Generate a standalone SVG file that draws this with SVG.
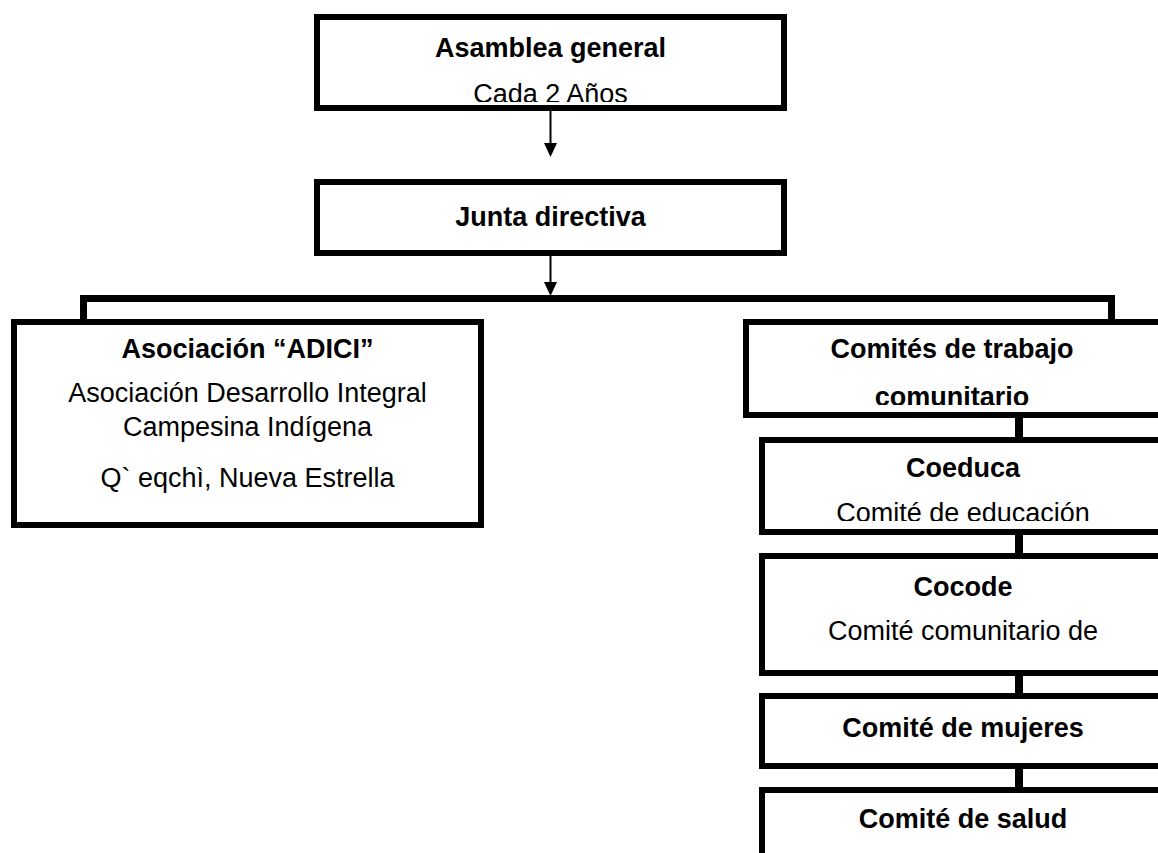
<svg xmlns="http://www.w3.org/2000/svg" width="1158" height="853" viewBox="0 0 1158 853">
<style>
.box{fill:#fff;stroke:#000;stroke-width:6}
.b{font-family:"Liberation Sans",Arial,sans-serif;font-size:27px;font-weight:bold;fill:#000;text-anchor:middle}
.r{font-family:"Liberation Sans",Arial,sans-serif;font-size:27px;fill:#000;text-anchor:middle}
.thin{stroke:#000;stroke-width:2;fill:none}
.thick{stroke:#000;stroke-width:7;fill:none}
.link{stroke:#000;stroke-width:8;fill:none}
</style>
<defs>
<clipPath id="c1"><rect x="317" y="17" width="467" height="85"/></clipPath>
<clipPath id="c2"><rect x="746" y="322" width="420" height="83"/></clipPath>
<clipPath id="c3"><rect x="762" y="440" width="410" height="81"/></clipPath>
</defs>
<rect width="1158" height="853" fill="#fff"/>
<g id="connectors">
<line class="thin" x1="550.5" y1="111" x2="550.5" y2="145"/>
<polygon points="544,143 557,143 550.5,157" fill="#000"/>
<line class="thin" x1="550.5" y1="256" x2="550.5" y2="284"/>
<polygon points="544,282 557,282 550.5,296" fill="#000"/>
<path class="thick" d="M83.5 320 V298.5 H1111.5 V320" stroke-linejoin="miter"/>
<line class="link" x1="1019" y1="418" x2="1019" y2="438"/>
<line class="link" x1="1019" y1="535" x2="1019" y2="554"/>
<line class="link" x1="1019" y1="676" x2="1019" y2="697"/>
<line class="link" x1="1019" y1="769" x2="1019" y2="788"/>
</g>
<g id="asamblea">
<rect class="box" x="317" y="17" width="467" height="91"/>
<text class="b" x="550.5" y="57">Asamblea general</text>
<text class="r" x="550.5" y="103" clip-path="url(#c1)">Cada 2 Años</text>
</g>
<g id="junta">
<rect class="box" x="317" y="182" width="467" height="71"/>
<text class="b" x="550.5" y="226">Junta directiva</text>
</g>
<g id="adici">
<rect class="box" x="14" y="322" width="467" height="203"/>
<text class="b" x="247.5" y="358">Asociación “ADICI”</text>
<text class="r" x="247.5" y="402">Asociación Desarrollo Integral</text>
<text class="r" x="247.5" y="436">Campesina Indígena</text>
<text class="r" x="247.5" y="487">Q` eqchì, Nueva Estrella</text>
</g>
<g id="comites">
<rect class="box" x="746" y="322" width="420" height="93"/>
<text class="b" x="952" y="358">Comités de trabajo</text>
<text class="b" x="952" y="406" clip-path="url(#c2)">comunitario</text>
</g>
<g id="coeduca">
<rect class="box" x="762" y="440" width="410" height="92"/>
<text class="b" x="963" y="477">Coeduca</text>
<text class="r" x="963" y="522" clip-path="url(#c3)">Comité de educación</text>
</g>
<g id="cocode">
<rect class="box" x="762" y="556" width="410" height="117"/>
<text class="b" x="963" y="596">Cocode</text>
<text class="r" x="963" y="640">Comité comunitario de</text>
</g>
<g id="mujeres">
<rect class="box" x="762" y="696" width="410" height="70"/>
<text class="b" x="963" y="737">Comité de mujeres</text>
</g>
<g id="salud">
<rect class="box" x="762" y="790" width="410" height="90"/>
<text class="b" x="963" y="828">Comité de salud</text>
</g>
</svg>
